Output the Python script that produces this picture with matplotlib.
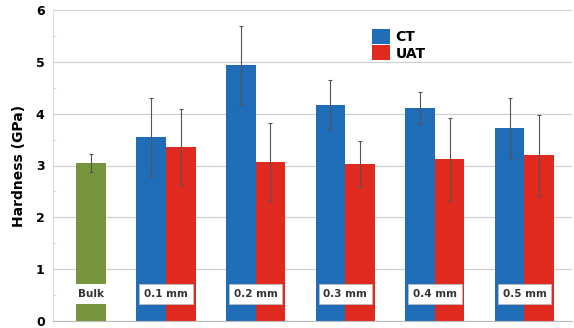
import numpy as np
import matplotlib.pyplot as plt

# valeurs
groups = ["0.1 mm", "0.2 mm", "0.3 mm", "0.4 mm", "0.5 mm"]
ct_mean = [3.55, 4.94, 4.17, 4.11, 3.73]
ct_err = [0.75, 0.76, 0.47, 0.31, 0.58]
uat_mean = [3.36, 3.07, 3.03, 3.12, 3.20]
uat_err = [0.73, 0.75, 0.44, 0.80, 0.78]
bulk_mean = 3.05
bulk_err = 0.18

blue = "#1f6cb7"
red = "#e12a1f"
green = "#76953a"

fig = plt.figure(figsize=(5.74, 3.28), dpi=100)
ax = fig.add_axes([53 / 574, 7 / 328, 519 / 574, 311 / 328])

w = 0.33
pos = np.arange(1, len(groups) + 1)
err_kw = dict(ecolor="#555555", elinewidth=0.8, capsize=1.5, capthick=0.8)

ax.bar(0 + w / 2, bulk_mean, w, color=green, yerr=bulk_err, error_kw=err_kw, zorder=2)
ax.bar(pos - w / 2, ct_mean, w, color=blue, yerr=ct_err, error_kw=err_kw,
       label="CT", zorder=2)
ax.bar(pos + w / 2, uat_mean, w, color=red, yerr=uat_err, error_kw=err_kw,
       label="UAT", zorder=2)

# étiquettes dans les barres
ax.text(0 + w / 2, 0.52, "Bulk", ha="center", va="center", fontsize=7.5,
        fontweight="bold", color="#333333", zorder=4,
        bbox=dict(boxstyle="square,pad=0.5", fc="white", ec="none"))
for p, g in zip(pos, groups):
    ax.text(p, 0.52, g, ha="center", va="center", fontsize=7.5,
            fontweight="bold", color="#333333", zorder=4,
            bbox=dict(boxstyle="square,pad=0.45", fc="white", ec="#bbbbbb", lw=0.6))

ax.set_xlim(-0.26, 5.53)
ax.set_ylim(0, 6)
ax.set_yticks(range(0, 7))
ax.set_yticks(np.arange(0.5, 6, 1), minor=True)
ax.set_xticks([])
ax.tick_params(axis="y", which="major", length=0, labelsize=9, pad=6)
ax.tick_params(axis="y", which="minor", length=2, color="#cccccc", direction="in")
for lab in ax.get_yticklabels():
    lab.set_fontweight("bold")
ax.set_ylabel("Hardness (GPa)", fontsize=10, fontweight="bold", labelpad=7)

ax.grid(axis="y", color="#d0d0d0", lw=0.9, zorder=0)
for s in ["top", "right"]:
    ax.spines[s].set_visible(False)
ax.spines["left"].set_color("#dddddd")
ax.spines["bottom"].set_color("#bbbbbb")

leg = ax.legend(loc="upper left", bbox_to_anchor=(0.59, 0.98), frameon=False,
                prop=dict(size=10, weight="bold"), handlelength=1.3,
                handleheight=1.3, handletextpad=0.4, labelspacing=0.1)

fig.savefig("out.png", dpi=100)
